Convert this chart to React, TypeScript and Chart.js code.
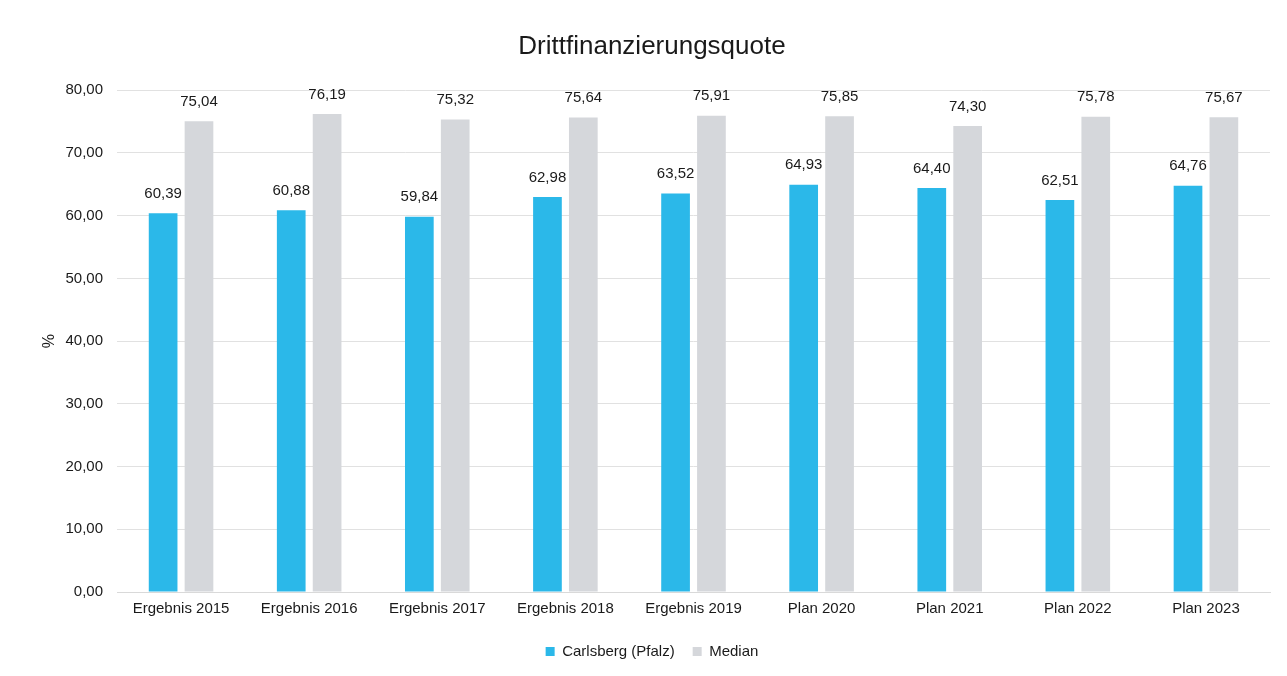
import React, { useEffect, useRef } from "react";
import { Chart, registerables } from "chart.js";

Chart.register(...registerables);

const categories = [
  "Ergebnis 2015",
  "Ergebnis 2016",
  "Ergebnis 2017",
  "Ergebnis 2018",
  "Ergebnis 2019",
  "Plan 2020",
  "Plan 2021",
  "Plan 2022",
  "Plan 2023",
];
const carlsbergValues = [60.39, 60.88, 59.84, 62.98, 63.52, 64.93, 64.4, 62.51, 64.76];
const medianValues = [75.04, 76.19, 75.32, 75.64, 75.91, 75.85, 74.3, 75.78, 75.67];
const seriesNames = ["Carlsberg (Pfalz)", "Median"];
const titleText = "Drittfinanzierungsquote";
const yAxisLabel = "%";

const FONT = "'Liberation Sans', Arial, sans-serif";
const fmt = (v: number) => v.toFixed(2).replace(".", ",");

const dataLabelPlugin = {
  id: "dataLabels",
  afterDatasetsDraw(chart: any) {
    const ctx = chart.ctx;
    ctx.save();
    ctx.font = `15px ${FONT}`;
    ctx.fillStyle = "#1a1a1a";
    ctx.textAlign = "center";
    ctx.textBaseline = "bottom";
    chart.data.datasets.forEach((ds: any, di: number) => {
      const meta = chart.getDatasetMeta(di);
      meta.data.forEach((bar: any, i: number) => {
        ctx.fillText(fmt(ds.data[i]), bar.x, bar.y - 12);
      });
    });
    ctx.restore();
  },
};

export default function App() {
  const ref = useRef<HTMLCanvasElement | null>(null);
  useEffect(() => {
    document.body.style.margin = "0";
    document.body.style.background = "#ffffff";
    const chart = new Chart(ref.current!, {
      type: "bar",
      data: {
        labels: categories,
        datasets: [
          {
            label: seriesNames[0],
            data: carlsbergValues,
            backgroundColor: "#2bb8e9",
            barPercentage: 0.8,
            categoryPercentage: 0.56,
          },
          {
            label: seriesNames[1],
            data: medianValues,
            backgroundColor: "#d5d7db",
            barPercentage: 0.8,
            categoryPercentage: 0.56,
          },
        ],
      },
      options: {
        animation: false,
        responsive: false,
        maintainAspectRatio: false,
        layout: { padding: { left: 34, right: 17, top: 0, bottom: 7 } },
        plugins: {
          title: {
            display: true,
            text: titleText,
            color: "#1a1a1a",
            font: { family: FONT, size: 26, weight: "normal" },
            padding: { top: 31, bottom: 28 },
          },
          legend: {
            position: "bottom",
            labels: {
              color: "#1a1a1a",
              font: { family: FONT, size: 15 },
              boxWidth: 9,
              boxHeight: 9,
              padding: 18,
            },
          },
          tooltip: { enabled: false },
        },
        scales: {
          x: {
            grid: { display: false, drawTicks: false },
            border: { display: true, color: "#d9d9d9" },
            ticks: {
              color: "#1a1a1a",
              font: { family: FONT, size: 15 },
              padding: 8,
              maxRotation: 0,
            },
          },
          y: {
            min: 0,
            max: 80,
            afterFit: (scale: any) => {
              scale.width = 83;
            },
            ticks: {
              stepSize: 10,
              color: "#1a1a1a",
              font: { family: FONT, size: 15 },
              padding: 14,
              callback: (v: any) => fmt(Number(v)),
            },
            grid: { color: "#e1e1e1", drawTicks: false },
            border: { display: false },
            title: {
              display: true,
              text: yAxisLabel,
              color: "#1a1a1a",
              font: { family: FONT, size: 16 },
              padding: { top: 6, bottom: 0 },
            },
          },
        },
      },
      plugins: [dataLabelPlugin],
    });
    return () => chart.destroy();
  }, []);
  return (
    <div style={{ width: 1287, height: 676 }}>
      <canvas ref={ref} width={1287} height={676} style={{ display: "block" }} />
    </div>
  );
}
